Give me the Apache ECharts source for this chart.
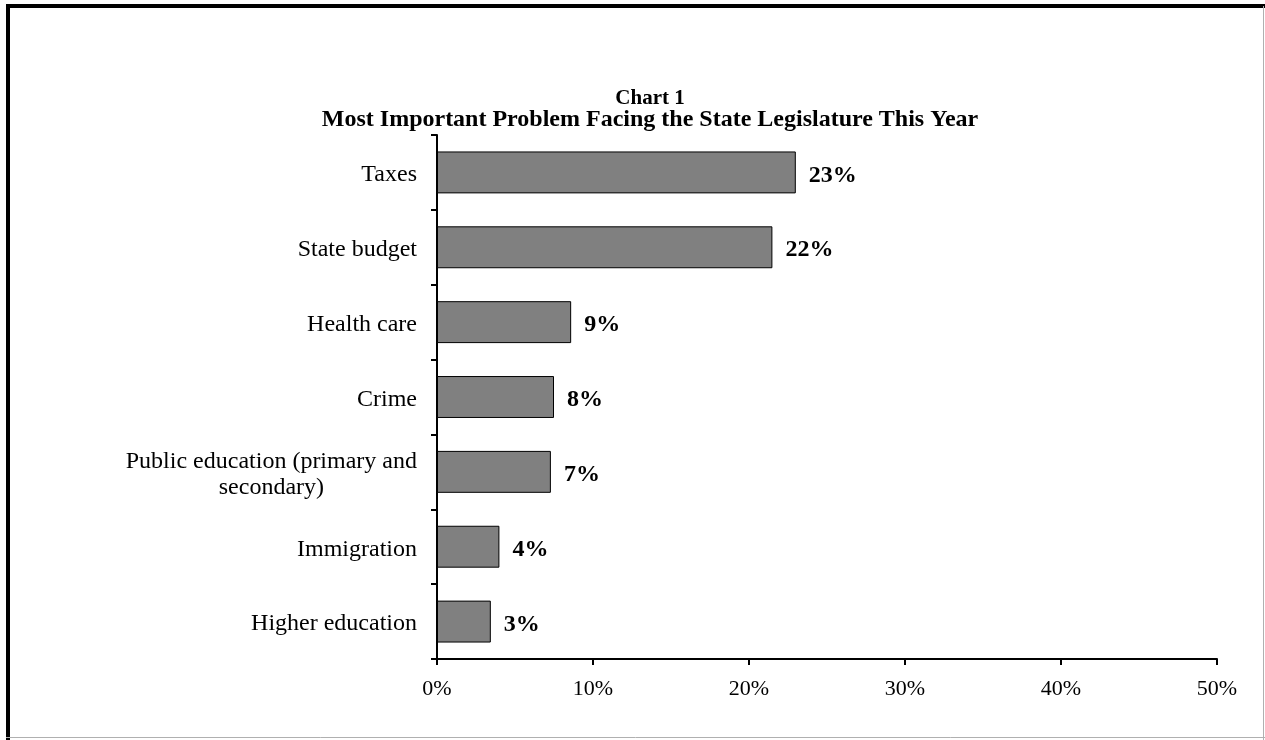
<!DOCTYPE html>
<html>
<head>
<meta charset="utf-8">
<title>Chart 1</title>
<script src="https://cdn.jsdelivr.net/npm/echarts@6/dist/echarts.min.js"></script>
<style>
  html, body { margin: 0; padding: 0; background: #fff; }
  #chart { width: 1265px; height: 740px; }
</style>
</head>
<body>
<div id="chart"></div>
<script>
// Survey responses: share naming each issue (percent)
const categories = [
  'Taxes',
  'State budget',
  'Health care',
  'Crime',
  'Public education (primary and secondary)',
  'Immigration',
  'Higher education'
];
const shares = [23.0, 21.5, 8.6, 7.5, 7.3, 4.0, 3.45];
const xTicks = [0, 10, 20, 30, 40, 50];

const titleLines = ['Chart 1', 'Most Important Problem Facing the State Legislature This Year'];

const serif = '"Liberation Serif", "Times New Roman", serif';

const chart = echarts.init(document.getElementById('chart'), null, { renderer: 'canvas' });

chart.setOption({
  backgroundColor: '#ffffff',
  animation: false,
  textStyle: { fontFamily: serif, color: '#000' },
  title: {
    text: '{a|' + titleLines[0] + '}\n{b|' + titleLines[1] + '}',
    left: 645,
    textAlign: 'center',
    top: 84,
    textStyle: {
      fontFamily: serif, fontWeight: 'bold', color: '#000',
      rich: {
        a: { fontFamily: serif, fontWeight: 'bold', fontSize: 21, lineHeight: 20, color: '#000' },
        b: { fontFamily: serif, fontWeight: 'bold', fontSize: 24, lineHeight: 21, color: '#000' }
      }
    }
  },
  grid: { left: 437, right: 48, top: 135, bottom: 81, containLabel: false },
  xAxis: {
    type: 'value',
    min: xTicks[0],
    max: xTicks[xTicks.length - 1],
    interval: xTicks[1] - xTicks[0],
    splitLine: { show: false },
    axisLine: { show: true, lineStyle: { color: '#000', width: 2 } },
    axisTick: { show: true, length: 6, lineStyle: { color: '#000', width: 2 } },
    axisLabel: {
      formatter: '{value}%',
      fontFamily: serif, fontSize: 22, color: '#000', margin: 19
    }
  },
  yAxis: {
    type: 'category',
    inverse: true,
    data: categories,
    axisLine: { show: true, lineStyle: { color: '#000', width: 2 } },
    axisTick: { show: true, length: 6, lineStyle: { color: '#000', width: 2 } },
    axisLabel: {
      margin: 20,
      padding: [5, 0, 0, 0],
      fontFamily: serif, fontSize: 24, color: '#000',
      formatter: function (v) {
        if (v.indexOf('(') > 0) {
          return '{c|Public education (primary and}\n{c|secondary)}';
        }
        return v;
      },
      rich: {
        c: { align: 'center', fontFamily: serif, fontSize: 24, lineHeight: 26, color: '#000' }
      }
    }
  },
  series: [{
    type: 'bar',
    data: shares,
    barCategoryGap: '44%',
    itemStyle: { color: '#808080', borderColor: '#000', borderWidth: 1 },
    label: {
      show: true,
      position: 'right',
      distance: 13,
      offset: [0, 3],
      formatter: function (p) { return Math.round(p.value) + '%'; },
      fontFamily: serif, fontWeight: 'bold', fontSize: 24, color: '#000'
    }
  }],
  graphic: [
    { type: 'line', shape: { x1: 8, y1: 4, x2: 8, y2: 740 }, style: { stroke: '#000', lineWidth: 4 } },
    { type: 'line', shape: { x1: 6, y1: 6, x2: 1265, y2: 6 }, style: { stroke: '#000', lineWidth: 4 } },
    { type: 'line', shape: { x1: 1263.5, y1: 6, x2: 1263.5, y2: 740 }, style: { stroke: '#b0b0b0', lineWidth: 1 } },
    { type: 'line', shape: { x1: 6, y1: 737.5, x2: 1265, y2: 737.5 }, style: { stroke: '#b0b0b0', lineWidth: 1 } }
  ]
});
</script>
</body>
</html>
